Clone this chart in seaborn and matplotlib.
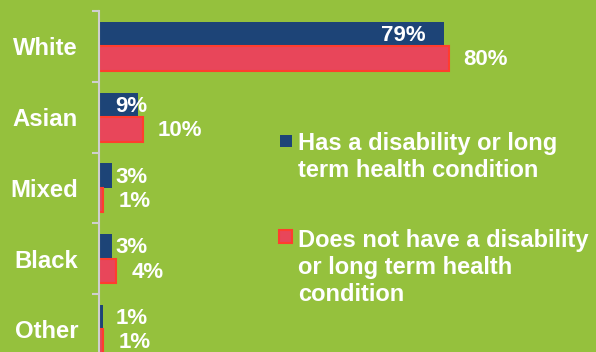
import matplotlib
matplotlib.use("Agg")
import matplotlib.pyplot as plt
import seaborn as sns
import pandas as pd
import numpy as np
from matplotlib.patches import Rectangle

# ---- data ----
categories = ["White", "Asian", "Mixed", "Black", "Other"]
has_disability = [79, 9, 3, 3, 1]
no_disability = [80, 10, 1, 4, 1]
series_names = ["Has a disability or long term health condition",
                "Does not have a disability or long term health condition"]
legend_lines = [["Has a disability or long", "term health condition"],
                ["Does not have a disability", "or long term health", "condition"]]

# ---- style ----
BG = "#95C13D"
BLUE = "#1D4477"
RED_FILL = "#E8465A"
RED_EDGE = "#FF3D2E"
AXIS = "#CFCFCF"

df = pd.DataFrame({
    "group": categories * 2,
    "value": has_disability + no_disability,
    "series": [series_names[0]] * len(categories) + [series_names[1]] * len(categories),
})

sns.set_theme(style="white")
plt.rcParams["font.family"] = ["Liberation Sans", "DejaVu Sans"]
plt.rcParams["font.weight"] = "bold"

W, H = 596, 352
PX2PT = 72 / 100
fig = plt.figure(figsize=(W / 100, H / 100), dpi=100, facecolor=BG)
ax_left = 99 / W
ax_top = 1 - 11 / H
ax_bottom = 1 - 364.75 / H
ax = fig.add_axes([ax_left, ax_bottom, 1 - ax_left, ax_top - ax_bottom])
ax.set_facecolor(BG)

sns.barplot(data=df, y="group", x="value", hue="series", order=categories,
            hue_order=series_names, palette=[BLUE, RED_FILL], orient="h",
            width=0.69, saturation=1, legend=False, ax=ax)

for bar in ax.containers[0]:
    bar.set_linewidth(0)
for bar in ax.containers[1]:
    bar.set_edgecolor(RED_EDGE)
    bar.set_linewidth(1.5)

ax.set_xlim(0, (W - 99) / 4.37)
ax.set_ylim(len(categories) - 0.5, -0.5)

# value labels
lab_kw = dict(color="white", fontsize=16, fontweight="bold", va="center")
for bar, v in zip(ax.containers[0], has_disability):
    yc = bar.get_y() + bar.get_height() / 2 + 0.02
    if v > 50:
        ax.annotate(f"{v}%", xy=(v, yc), xytext=(-19 * PX2PT, 0),
                    textcoords="offset points", ha="right", **lab_kw)
    else:
        ax.text(7.5, yc, f"{v}%", ha="center", **lab_kw)
for bar, v in zip(ax.containers[1], no_disability):
    yc = bar.get_y() + bar.get_height() / 2 + 0.02
    ax.annotate(f"{v}%", xy=(v, yc), xytext=(15 * PX2PT, 0),
                textcoords="offset points", ha="left", **lab_kw)

# axes styling
for s in ["top", "right", "bottom"]:
    ax.spines[s].set_visible(False)
ax.spines["left"].set_color(AXIS)
ax.spines["left"].set_linewidth(1.5)
ax.set_xticks([])
ax.set_xlabel("")
ax.set_ylabel("")
ax.set_yticks(range(len(categories)))
ax.set_yticklabels(categories, fontsize=17.2, fontweight="bold", color="white")
ax.set_yticks(np.arange(-0.5, len(categories), 1), minor=True)
ax.tick_params(axis="y", which="major", length=0, pad=21 * PX2PT)
ax.tick_params(axis="y", which="minor", left=True, length=7 * PX2PT,
               width=1.5, color=AXIS, direction="out")

# legend (manual, to keep marker aligned to first line)
def fx(px):
    return px / W

def fy(py):
    return 1 - py / H

fig.patches.append(Rectangle((fx(280), fy(147)), 12 / W, 12 / H,
                             transform=fig.transFigure, facecolor=BLUE,
                             edgecolor="none"))
fig.patches.append(Rectangle((fx(279), fy(243)), 13 / W, 13 / H,
                             transform=fig.transFigure, facecolor=RED_FILL,
                             edgecolor=RED_EDGE, linewidth=1.5))
baselines = [[150, 177], [247, 274, 301]]
for lines, bls in zip(legend_lines, baselines):
    for line, bl in zip(lines, bls):
        fig.text(fx(298), fy(bl), line, color="white", fontsize=17,
                 fontweight="bold", ha="left", va="baseline")

fig.savefig("out.png", dpi=100, facecolor=BG)
